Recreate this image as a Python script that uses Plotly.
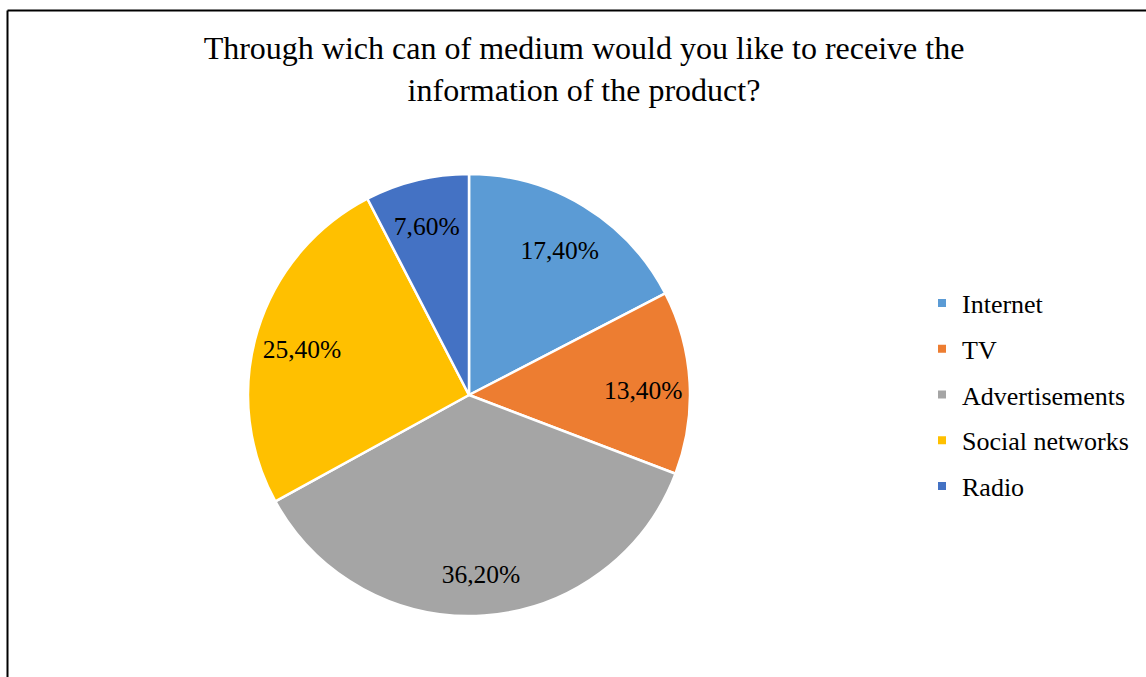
import plotly.graph_objects as go

# Survey answers: preferred medium for product information
labels = ["Internet", "TV", "Advertisements", "Social networks", "Radio"]
shares = [17.4, 13.4, 36.2, 25.4, 7.6]
slice_colors = ["#5B9BD5", "#ED7D31", "#A5A5A5", "#FFC000", "#4472C4"]
label_text = [f"{v:.2f}%".replace(".", ",") for v in shares]

W, H = 1146, 677
cx, cy, r = 469, 395, 221
serif = "Liberation Serif"


def domain_at(x_c, y_c):
    return dict(x=[(x_c - r) / W, (x_c + r) / W], y=[1 - (y_c + r) / H, 1 - (y_c - r) / H])


fig = go.Figure()

# Filled slices
fig.add_trace(go.Pie(
    labels=labels,
    values=shares,
    textinfo="none",
    sort=False,
    direction="clockwise",
    rotation=0,
    marker=dict(colors=slice_colors, line=dict(color="white", width=2.5)),
    domain=domain_at(cx, cy),
    showlegend=False,
))

# Percentage labels, set in a transparent outer ring so they sit near the rim
fig.add_trace(go.Pie(
    labels=labels,
    values=shares,
    text=label_text,
    textinfo="text",
    textposition="inside",
    insidetextorientation="horizontal",
    hole=0.58,
    sort=False,
    direction="clockwise",
    rotation=0,
    marker=dict(colors=["rgba(0,0,0,0)"] * len(labels), line=dict(width=0)),
    textfont=dict(family=serif, size=25.5, color="black"),
    domain=domain_at(cx, cy + 5),
    hoverinfo="skip",
    showlegend=False,
))

# Legend entries, one per category
for name, col in zip(labels, slice_colors):
    fig.add_trace(go.Scatter(
        x=[None], y=[None], mode="markers", name=name, legendgroup=name,
        marker=dict(symbol="square", size=8, color=col),
    ))

fig.update_layout(
    width=W,
    height=H,
    margin=dict(l=0, r=0, t=0, b=0),
    paper_bgcolor="white",
    plot_bgcolor="white",
    font=dict(family=serif, color="black"),
    uniformtext=dict(minsize=25.5, mode="show"),
    xaxis=dict(visible=False),
    yaxis=dict(visible=False),
    title=dict(
        text="Through wich can of medium would you like to receive the<br>information of the product?",
        x=584 / W,
        xanchor="center",
        y=1 - 59 / H,
        yanchor="middle",
        font=dict(family=serif, size=32, color="black"),
    ),
    legend=dict(
        x=922 / W,
        xanchor="left",
        y=1 - 395 / H,
        yanchor="middle",
        font=dict(family=serif, size=26, color="black"),
        itemwidth=30,
        tracegroupgap=9,
    ),
    shapes=[
        dict(type="line", xref="paper", yref="paper", x0=7.5 / W, x1=1.0, y0=1 - 10.5 / H, y1=1 - 10.5 / H,
             line=dict(color="black", width=2)),
        dict(type="line", xref="paper", yref="paper", x0=7.5 / W, x1=7.5 / W, y0=0, y1=1 - 10.5 / H,
             line=dict(color="black", width=2)),
    ],
)

fig.write_html("out.html")
